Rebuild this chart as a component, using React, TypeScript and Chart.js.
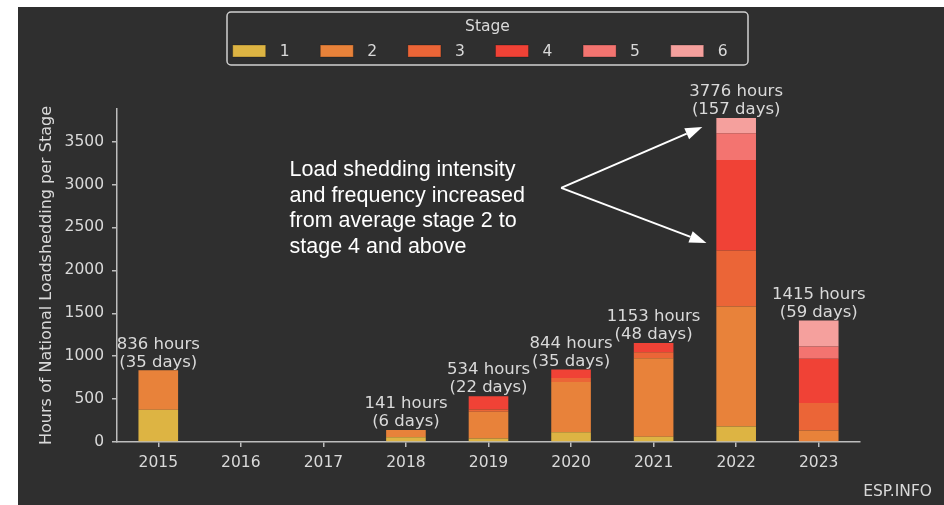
import React, { useEffect, useRef } from "react";
import { Chart, registerables } from "chart.js";

Chart.register(...registerables);

// ---------- data ----------
const years = ["2015", "2016", "2017", "2018", "2019", "2020", "2021", "2022", "2023"];
const stageNames = ["1", "2", "3", "4", "5", "6"];
const stage1 = [376, 0, 0, 55, 40, 115, 62, 182, 0];
const stage2 = [460, 0, 0, 86, 312, 585, 915, 1397, 135];
const stage3 = [0, 0, 0, 0, 28, 45, 70, 652, 319];
const stage4 = [0, 0, 0, 0, 154, 99, 106, 1056, 516];
const stage5 = [0, 0, 0, 0, 0, 0, 0, 311, 143];
const stage6 = [0, 0, 0, 0, 0, 0, 0, 178, 302];
const totalHours = [836, 0, 0, 141, 534, 844, 1153, 3776, 1415];
const totalDays = [35, 0, 0, 6, 22, 35, 48, 157, 59];
const yTickValues = [0, 500, 1000, 1500, 2000, 2500, 3000, 3500];
const yMax = 3880;
const stageColors = ["#DDB443", "#E8823A", "#EB6537", "#F04236", "#F37470", "#F5A09D"];
const yAxisTitle = "Hours of National Loadshedding per Stage";
const legendTitle = "Stage";
const annotationLines = [
  "Load shedding intensity",
  "and frequency increased",
  "from average stage 2 to",
  "stage 4 and above",
];
// annotation anchor points in data coordinates (category index, hours)
const annotationTextAt = [1.59, 3170];
const arrowFrom = [4.88, 2961];
const arrowTips = [
  [6.59, 3671],
  [6.64, 2320],
];
const watermark = "ESP.INFO";

const FONT = "'DejaVu Sans', sans-serif";
const TEXT = "#d9d9d9";
const AXIS = "#bdbdbd";

const overlayPlugin = {
  id: "overlay",
  afterDraw(chart: any) {
    const ctx = chart.ctx as CanvasRenderingContext2D;
    const xs = chart.scales.x;
    const ys = chart.scales.y;
    ctx.save();

    // bar total labels
    ctx.fillStyle = TEXT;
    ctx.font = `16.5px ${FONT}`;
    ctx.textAlign = "center";
    ctx.textBaseline = "middle";
    totalHours.forEach((h, i) => {
      if (!h) return;
      const px = xs.getPixelForValue(i);
      const py = ys.getPixelForValue(h);
      ctx.fillText(`${h} hours`, px, py - 26);
      ctx.fillText(`(${totalDays[i]} days)`, px, py - 8);
    });

    // annotation text
    ctx.fillStyle = "#ffffff";
    ctx.font = `21.5px 'Liberation Sans', Arial, sans-serif`;
    ctx.textAlign = "left";
    ctx.textBaseline = "middle";
    const tx = xs.getPixelForValue(annotationTextAt[0]);
    const ty = ys.getPixelForValue(annotationTextAt[1]);
    annotationLines.forEach((line, k) => {
      ctx.fillText(line, tx, ty + k * 25.7);
    });

    // arrows
    const ox = xs.getPixelForValue(arrowFrom[0]);
    const oy = ys.getPixelForValue(arrowFrom[1]);
    ctx.strokeStyle = "#ffffff";
    ctx.fillStyle = "#ffffff";
    ctx.lineWidth = 2;
    arrowTips.forEach(([ax, ay]) => {
      const px = xs.getPixelForValue(ax);
      const py = ys.getPixelForValue(ay);
      const ang = Math.atan2(py - oy, px - ox);
      const headLen = 17;
      const headW = 6;
      const bx = px - headLen * Math.cos(ang);
      const by = py - headLen * Math.sin(ang);
      ctx.beginPath();
      ctx.moveTo(ox, oy);
      ctx.lineTo(bx, by);
      ctx.stroke();
      ctx.beginPath();
      ctx.moveTo(px, py);
      ctx.lineTo(bx + headW * Math.sin(ang), by - headW * Math.cos(ang));
      ctx.lineTo(bx - headW * Math.sin(ang), by + headW * Math.cos(ang));
      ctx.closePath();
      ctx.fill();
    });

    // legend
    const lx = 209, ly = 5, lw = 521, lh = 53, r = 4;
    ctx.strokeStyle = "#cfcfcf";
    ctx.lineWidth = 1.5;
    ctx.beginPath();
    ctx.moveTo(lx + r, ly);
    ctx.arcTo(lx + lw, ly, lx + lw, ly + lh, r);
    ctx.arcTo(lx + lw, ly + lh, lx, ly + lh, r);
    ctx.arcTo(lx, ly + lh, lx, ly, r);
    ctx.arcTo(lx, ly, lx + lw, ly, r);
    ctx.closePath();
    ctx.stroke();
    ctx.fillStyle = TEXT;
    ctx.font = `15.5px ${FONT}`;
    ctx.textAlign = "center";
    ctx.textBaseline = "middle";
    ctx.fillText(legendTitle, lx + lw / 2, 20);
    chart.data.datasets.forEach((ds: any, k: number) => {
      const sx = 214.7 + k * 87.6;
      ctx.fillStyle = ds.backgroundColor;
      ctx.fillRect(sx, 38, 33, 12);
      ctx.strokeStyle = "rgba(0,0,0,0.25)";
      ctx.lineWidth = 1;
      ctx.strokeRect(sx, 38, 33, 12);
      ctx.fillStyle = TEXT;
      ctx.textAlign = "left";
      ctx.fillText(ds.label, sx + 47, 44.5);
    });

    // watermark
    ctx.fillStyle = TEXT;
    ctx.font = `15.5px ${FONT}`;
    ctx.textAlign = "right";
    ctx.textBaseline = "middle";
    ctx.fillText(watermark, 914, 485);

    ctx.restore();
  },
};

export default function App() {
  const ref = useRef<HTMLCanvasElement | null>(null);

  useEffect(() => {
    if (!ref.current) return;
    Chart.defaults.font.family = FONT;
    Chart.defaults.color = TEXT;
    const series = [stage1, stage2, stage3, stage4, stage5, stage6];
    const chart = new Chart(ref.current, {
      type: "bar",
      data: {
        labels: years,
        datasets: series.map((d, k) => ({
          label: stageNames[k],
          data: d,
          backgroundColor: stageColors[k],
          borderWidth: 0,
          categoryPercentage: 1,
          barPercentage: 0.48,
        })),
      },
      options: {
        responsive: false,
        maintainAspectRatio: false,
        animation: false,
        layout: { padding: { left: 0, right: 84, top: 102, bottom: 0 } },
        plugins: {
          legend: { display: false },
          tooltip: { enabled: false },
        },
        scales: {
          x: {
            stacked: true,
            offset: true,
            grid: {
              display: true,
              drawOnChartArea: false,
              drawTicks: true,
              tickLength: 5,
              color: AXIS,
              lineWidth: 1.5,
              offset: false,
            },
            border: { display: true, color: AXIS, width: 1.5 },
            ticks: { color: TEXT, font: { size: 15.5 }, padding: 7, maxRotation: 0 },
            afterFit: (s: any) => {
              s.height = 63;
            },
          },
          y: {
            stacked: true,
            min: 0,
            max: yMax,
            grid: {
              display: true,
              drawOnChartArea: false,
              drawTicks: true,
              tickLength: 5,
              color: AXIS,
              lineWidth: 1.5,
            },
            border: { display: true, color: AXIS, width: 1.5 },
            ticks: {
              color: TEXT,
              font: { size: 15.5 },
              padding: 8,
              callback: (v: any) => String(v),
            },
            afterBuildTicks: (s: any) => {
              s.ticks = yTickValues.map((v) => ({ value: v }));
            },
            title: {
              display: true,
              text: yAxisTitle,
              color: TEXT,
              font: { size: 16 },
              padding: { top: 19, bottom: 0 },
            },
            afterFit: (s: any) => {
              s.width = 99;
            },
          },
        },
      },
      plugins: [overlayPlugin],
    });
    return () => chart.destroy();
  }, []);

  return (
    <div
      style={{
        position: "absolute",
        left: 0,
        top: 0,
        width: 944,
        height: 505,
        background: "#ffffff",
        overflow: "hidden",
      }}
    >
      <canvas
        ref={ref}
        width={926}
        height={498}
        style={{
          position: "absolute",
          left: 18,
          top: 7,
          width: 926,
          height: 498,
          background: "#2f2f2f",
        }}
      />
    </div>
  );
}
